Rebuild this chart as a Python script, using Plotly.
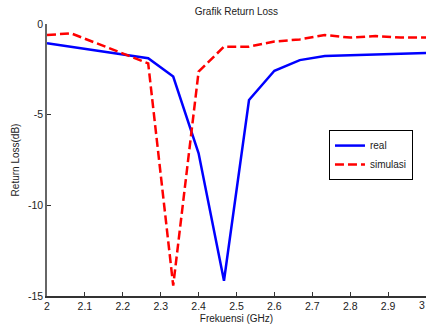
import plotly.graph_objects as go

real_x = [2.0, 2.267, 2.333, 2.4, 2.467, 2.533, 2.6, 2.667, 2.733, 3.0]
real_y = [-1.06, -1.89, -2.9, -7.13, -14.16, -4.19, -2.58, -1.99, -1.77, -1.6]

sim_x = [2.0, 2.063, 2.267, 2.333, 2.4, 2.467, 2.533, 2.6, 2.667, 2.733, 2.8, 2.867, 2.933, 3.0]
sim_y = [-0.61, -0.51, -2.17, -14.43, -2.63, -1.25, -1.25, -0.97, -0.85, -0.61, -0.75, -0.66, -0.75, -0.75]

x_ticks = [2, 2.1, 2.2, 2.3, 2.4, 2.5, 2.6, 2.7, 2.8, 2.9, 3]
x_labels = ["2", "2.1", "2.2", "2.3", "2.4", "2.5", "2.6", "2.7", "2.8", "2.9", "3"]
y_ticks = [0, -5, -10, -15]
y_labels = ["0", "-5", "-10", "-15"]

font = "Liberation Sans, Arial, sans-serif"

fig = go.Figure()
fig.add_trace(go.Scatter(x=real_x, y=real_y, mode="lines", name="real",
                         line=dict(color="#0000FF", width=2.5)))
fig.add_trace(go.Scatter(x=sim_x, y=sim_y, mode="lines", name="simulasi",
                         line=dict(color="#FF0000", width=2.5, dash="9px,4px")))

fig.update_layout(
    width=426, height=328,
    margin=dict(l=47, r=0, t=24, b=32),
    paper_bgcolor="white", plot_bgcolor="white",
    font=dict(family=font, size=10, color="#222"),
    title=dict(text="Grafik Return Loss", x=0.555, xanchor="center", y=0.965, yanchor="middle",
               font=dict(size=10, family=font, color="#222")),
    xaxis=dict(range=[2, 3], tickvals=x_ticks, ticktext=x_labels, showgrid=False, zeroline=False,
               showline=True, linecolor="#333", linewidth=1.5, ticks="inside", ticklen=4,
               tickcolor="#333", tickfont=dict(size=10.5),
               title=dict(text="Frekuensi (GHz)", font=dict(size=10), standoff=4)),
    yaxis=dict(range=[-15, 0], tickvals=y_ticks, ticktext=y_labels, showgrid=False, zeroline=False,
               showline=True, linecolor="#666", linewidth=1.5, ticks="inside", ticklen=4,
               tickcolor="#333", tickfont=dict(size=10.5),
               title=dict(text="Return Loss(dB)", font=dict(size=10), standoff=6)),
    legend=dict(x=0.744, y=0.61, xanchor="left", yanchor="top", bgcolor="white",
                bordercolor="black", borderwidth=1, font=dict(size=10),
                tracegroupgap=0, itemwidth=30),
    showlegend=True,
)

fig.add_annotation(x=x_ticks[-1], y=0, xref="x", yref="paper", text=x_labels[-1],
                   showarrow=False, xanchor="right", yanchor="top", yshift=-1, xshift=1,
                   font=dict(size=10.5, family=font, color="#222"))

fig.write_html("out.html")
